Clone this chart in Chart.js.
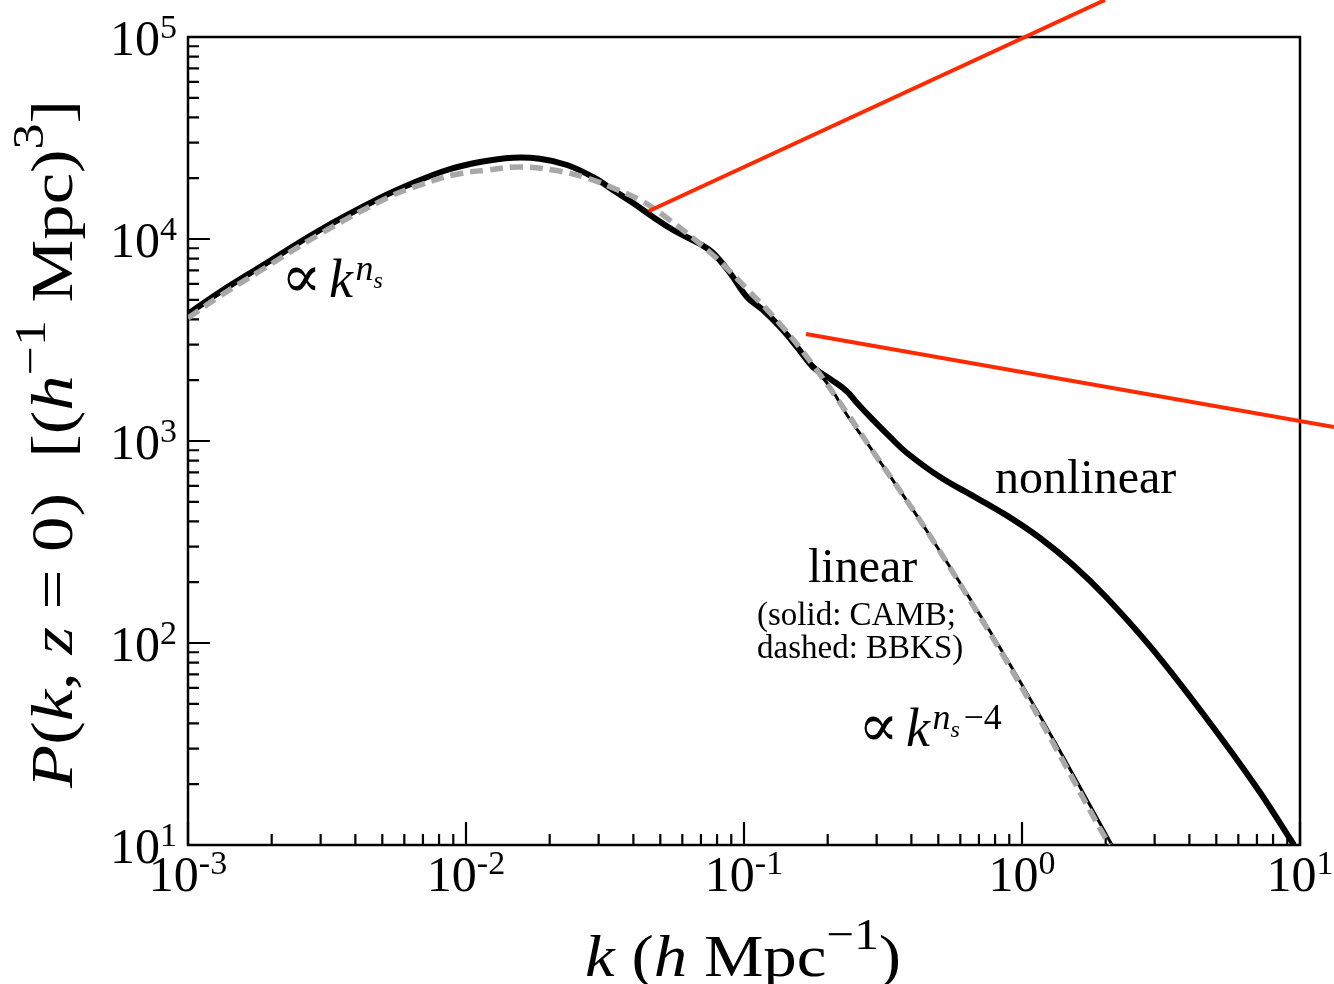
<!DOCTYPE html>
<html>
<head>
<meta charset="utf-8">
<script src="https://cdn.jsdelivr.net/npm/chart.js@4"></script>
<style>
  html, body { margin: 0; padding: 0; background: #fff; }
  #wrap { width: 1334px; height: 984px; }
</style>
</head>
<body>
<div id="wrap"><canvas id="pk" width="1334" height="984"></canvas></div>
<script>
/* ---------------- DATA ---------------- */
// linear P(k), CAMB (solid, with BAO wiggles)
const linK = [0.001, 0.001303, 0.001816, 0.002985, 0.004904, 0.006447, 0.008544, 0.01123,
  0.01476, 0.01845, 0.02308, 0.02862, 0.03379, 0.03988, 0.04706, 0.05555, 0.06945, 0.07734,
  0.08907, 0.1025, 0.117, 0.1348, 0.1551, 0.1771, 0.2039, 0.2347, 0.2911, 0.3858, 0.4785,
  0.6665, 0.8832, 1.095, 1.404, 1.877, 2.107];
const linP = [4254, 5465, 7268, 11080, 15960, 18930, 21960, 24060,
  25250, 24950, 23250, 20280, 17480, 15080, 12850, 11080, 9445, 8522,
  6787, 5163, 4452, 3667, 2920, 2325, 1851, 1345, 887, 505, 321.7,
  156.7, 82.9, 50.1, 27.5, 13.35, 10];

// linear P(k), BBKS fit (dashed, smooth)
const bbksK = [0.001, 0.001303, 0.001816, 0.002985, 0.005196, 0.006833, 0.008979, 0.0119,
  0.01563, 0.02056, 0.02724, 0.03379, 0.04225, 0.05284, 0.07734, 0.1025, 0.1348, 0.1771,
  0.2347, 0.2911, 0.3858, 0.4785, 0.6609, 0.8724, 1.077, 1.375, 1.831, 2.064];
const bbksP = [4063, 5221, 6944, 10590, 15960, 18510, 20740, 21960,
  22720, 21960, 20050, 17880, 15600, 12710, 8330, 5655, 3795, 2378,
  1376, 887, 505, 321.7, 156.7, 82.9, 50.1, 27.5, 13.35, 10];

// nonlinear P(k)
const nlK = [0.001, 0.001303, 0.001816, 0.002985, 0.004904, 0.006447, 0.008544, 0.01123,
  0.01476, 0.01845, 0.02308, 0.02862, 0.03379, 0.03988, 0.04706, 0.05555, 0.06945, 0.07734,
  0.08907, 0.1025, 0.117, 0.1348, 0.1551, 0.1771, 0.2039, 0.2347, 0.255, 0.2911, 0.335,
  0.3858, 0.507, 0.6776, 0.8832, 1.161, 1.526, 2.005, 2.911, 4.515, 7.003, 9.515];
const nlP = [4254, 5465, 7268, 11080, 15960, 18930, 21960, 24060,
  25250, 24950, 23250, 20280, 17480, 15080, 12850, 11080, 9445, 8522,
  6787, 5163, 4452, 3667, 2920, 2325, 2030, 1760, 1542, 1271, 1047,
  872, 663, 528, 427, 331, 243.3, 169, 95.1, 44.0, 19.15, 10];

// red pointer lines (run past the frame)
const redAK = [0.04552, 1.989];
const redAP = [13760, 152500];
const redBK = [0.1671, 13.25];
const redBP = [3386, 1173];

// axis decades and their tick label exponents
const xDecades = [1e-3, 1e-2, 1e-1, 1, 10];
const xExps = ["-3", "-2", "-1", "0", "1"];
const yDecades = [10, 100, 1000, 1e4, 1e5];
const yExps = ["1", "2", "3", "4", "5"];

/* ---------------- HELPERS ---------------- */
const SERIF = '"Liberation Serif", "Times New Roman", "DejaVu Serif", serif';

function pts(ks, ps) {
  return ks.map((k, i) => ({ x: k, y: ps[i] }));
}

function fontOf(r) {
  return (r.it ? "italic " : "") + r.size + "px " + SERIF;
}

function runsWidth(ctx, runs) {
  let w = 0;
  runs.forEach((r) => {
    ctx.font = fontOf(r);
    w += ctx.measureText(r.t).width;
  });
  return w;
}

function drawRuns(ctx, runs, x, y) {
  let cx = x;
  runs.forEach((r) => {
    ctx.font = fontOf(r);
    ctx.fillText(r.t, cx, y + (r.dy || 0));
    cx += ctx.measureText(r.t).width;
  });
}

// draw runs squeezed/stretched to a given width
function fitRuns(ctx, runs, x, y, target) {
  const w = runsWidth(ctx, runs);
  ctx.save();
  ctx.translate(x, y);
  ctx.scale(target / w, 1);
  drawRuns(ctx, runs, 0, 0);
  ctx.restore();
}

function tickLabel(exp) {
  return [
    { t: "10", size: 50 },
    { t: exp, size: 34, dy: -17 }
  ];
}

/* ---------------- FRAME, TICKS, TEXT ---------------- */
const decor = {
  id: "decor",
  beforeDatasetsDraw(chart) {
    const { ctx, chartArea: a, scales } = chart;
    const xs = scales.x, ys = scales.y;
    ctx.save();
    ctx.strokeStyle = "#000";
    ctx.lineWidth = 2.5;
    ctx.strokeRect(a.left, a.top, a.right - a.left, a.bottom - a.top);

    ctx.lineWidth = 2.2;
    ctx.beginPath();
    xDecades.forEach((d, i) => {
      const px = xs.getPixelForValue(d);
      ctx.moveTo(px, a.bottom);
      ctx.lineTo(px, a.bottom - 23);
      if (i === xDecades.length - 1) return;
      for (let m = 2; m <= 9; m++) {
        const mx = xs.getPixelForValue(m * d);
        ctx.moveTo(mx, a.bottom);
        ctx.lineTo(mx, a.bottom - 11);
      }
    });
    yDecades.forEach((d, i) => {
      const py = ys.getPixelForValue(d);
      ctx.moveTo(a.left, py);
      ctx.lineTo(a.left + 22, py);
      if (i === yDecades.length - 1) return;
      for (let m = 2; m <= 9; m++) {
        const my = ys.getPixelForValue(m * d);
        ctx.moveTo(a.left, my);
        ctx.lineTo(a.left + 11, my);
      }
    });
    ctx.stroke();
    ctx.restore();
  },
  afterDraw(chart) {
    const { ctx, chartArea: a, scales } = chart;
    ctx.save();
    ctx.fillStyle = "#000";
    ctx.textAlign = "left";
    ctx.textBaseline = "alphabetic";

    // tick labels
    xDecades.forEach((d, i) => {
      const runs = tickLabel(xExps[i]);
      const w = runsWidth(ctx, runs);
      drawRuns(ctx, runs, scales.x.getPixelForValue(d) - w / 2, a.bottom + 46);
    });
    yDecades.forEach((d, i) => {
      const runs = tickLabel(yExps[i]);
      const w = runsWidth(ctx, runs);
      drawRuns(ctx, runs, 177 - w, scales.y.getPixelForValue(d) + 18);
    });

    // x title
    fitRuns(ctx, [
      { t: "k", size: 60, it: true },
      { t: " (", size: 60 },
      { t: "h", size: 60, it: true },
      { t: " Mpc", size: 60 },
      { t: "\u22121", size: 44, dy: -27 },
      { t: ")", size: 60 }
    ], 585, 976, 316);

    // y title (rotated)
    ctx.save();
    ctx.translate(72, 788);
    ctx.rotate(-Math.PI / 2);
    fitRuns(ctx, [
      { t: "P", size: 60, it: true },
      { t: "(", size: 60 },
      { t: "k", size: 60, it: true },
      { t: ", ", size: 60 },
      { t: "z", size: 60, it: true },
      { t: " = 0)  [(", size: 60 },
      { t: "h", size: 60, it: true },
      { t: "\u22121", size: 44, dy: -27 },
      { t: " Mpc)", size: 60 },
      { t: "3", size: 44, dy: -29 },
      { t: "]", size: 60 }
    ], 0, 0, 688);
    ctx.restore();

    // annotations
    drawRuns(ctx, [
      { t: "\u221D", size: 60 },
      { t: " ", size: 30 },
      { t: "k", size: 54, it: true },
      { t: " ", size: 10 },
      { t: "n", size: 36, it: true, dy: -17 },
      { t: "s", size: 24, it: true, dy: -9 }
    ], 281, 297);

    drawRuns(ctx, [
      { t: "\u221D", size: 60 },
      { t: " ", size: 30 },
      { t: "k", size: 54, it: true },
      { t: " ", size: 10 },
      { t: "n", size: 36, it: true, dy: -17 },
      { t: "s", size: 24, it: true, dy: -9 },
      { t: " ", size: 14 },
      { t: "\u22124", size: 36, dy: -17 }
    ], 858, 746);

    ctx.font = "48px " + SERIF;
    ctx.fillText("nonlinear", 995, 493);
    ctx.fillText("linear", 808, 582);
    ctx.font = "33px " + SERIF;
    ctx.fillText("(solid: CAMB;", 757, 625);
    ctx.fillText("dashed: BBKS)", 757, 658);
    ctx.restore();
  }
};

/* ---------------- CHART ---------------- */
new Chart(document.getElementById("pk"), {
  type: "line",
  data: {
    datasets: [
      {
        label: "pointer A", data: pts(redAK, redAP), borderColor: "#ff2a00",
        borderWidth: 4, pointRadius: 0, clip: false, order: 0
      },
      {
        label: "pointer B", data: pts(redBK, redBP), borderColor: "#ff2a00",
        borderWidth: 4, pointRadius: 0, clip: false, order: 0
      },
      {
        label: "BBKS", data: pts(bbksK, bbksP), borderColor: "#a8a8a8",
        borderWidth: 5.5, borderDash: [13, 7], pointRadius: 0, tension: 0.4, order: 1
      },
      {
        label: "CAMB linear", data: pts(linK, linP), borderColor: "#000",
        borderWidth: 3, pointRadius: 0, tension: 0.4, order: 2
      },
      {
        label: "nonlinear", data: pts(nlK, nlP), borderColor: "#000",
        borderWidth: 6, pointRadius: 0, tension: 0.4, order: 3
      }
    ]
  },
  options: {
    responsive: false,
    animation: false,
    devicePixelRatio: 1,
    layout: { padding: { left: 188, right: 34, top: 37, bottom: 139 } },
    plugins: { legend: { display: false }, tooltip: { enabled: false } },
    scales: {
      x: { type: "logarithmic", min: 1e-3, max: 10, display: false },
      y: { type: "logarithmic", min: 10, max: 1e5, display: false }
    }
  },
  plugins: [decor]
});
</script>
</body>
</html>
